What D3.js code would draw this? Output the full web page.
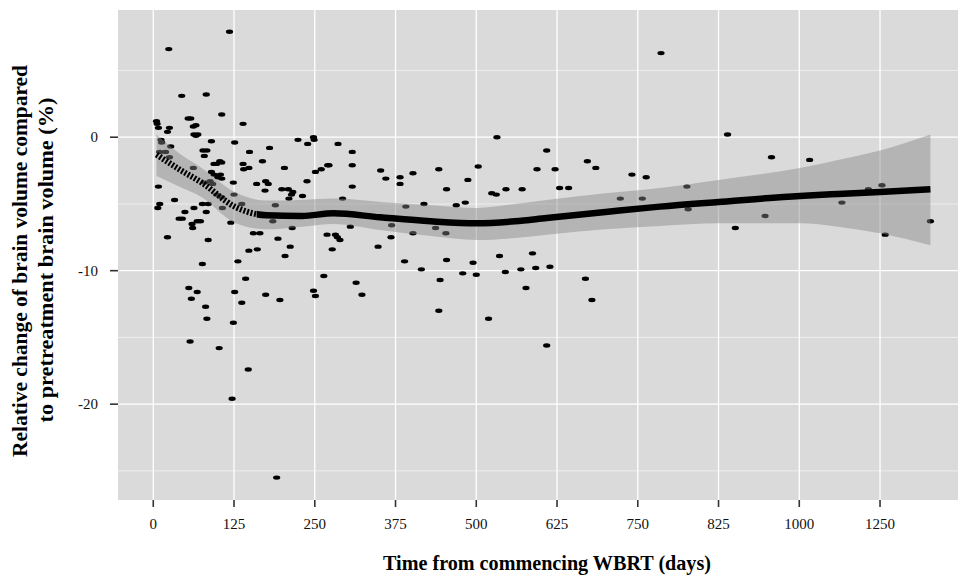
<!DOCTYPE html>
<html>
<head>
<meta charset="utf-8">
<script src="https://cdn.jsdelivr.net/npm/d3@7"></script>
<style>
  body { margin: 0; background: #fff; }
  text { font-family: "Liberation Serif", "Times New Roman", serif; }
</style>
</head>
<body>
<svg id="chart" width="958" height="578"></svg>
<script>
// scatter: days since WBRT start, relative change of brain volume (%)
var days = [118,24,44,82,106,54,58,5,6,8,25,62,66,22,63,69,66,90,12,13,27,77,83,79,10,19,25,103,106,98,
  94,62,90,94,104,100,106,124,8,88,80,92,98,106,33,10,7,76,85,107,63,82,49,40,45,68,73,60,61,120,
  22,85,139,126,149,180,224,239,248,249,286,308,169,139,140,148,270,272,308,203,260,251,352,360,382,382,160,174,178,238,
  173,199,209,216,214,210,231,308,125,293,189,137,185,215,305,369,155,165,193,269,282,285,289,368,148,161,212,204,277,348,
  131,76,143,264,55,68,59,126,174,196,248,251,314,323,137,81,83,124,57,102,147,122,191,
  786,532,609,402,442,454,487,503,524,531,546,571,594,622,629,643,672,685,741,763,723,757,419,391,469,483,402,437,453,
  389,454,495,536,587,415,479,500,545,569,592,614,444,577,669,679,442,519,609,
  889,957,1016,826,1107,1128,828,1066,947,901,1203,1133];
var change = [7.9,6.6,3.1,3.2,1.7,1.4,1.4,1.2,1.0,0.7,0.7,0.8,0.9,0.4,0.2,0.2,0.1,-0.3,-0.2,-0.4,-0.7,-1.0,-1.0,-1.4,-1.1,-1.1,-1.5,-1.8,-1.9,-2.0,
  -2.0,-2.3,-2.6,-2.8,-2.8,-3.0,-3.1,-3.4,-3.7,-3.3,-3.4,-3.5,-4.3,-4.5,-4.7,-5.0,-5.3,-5.0,-5.0,-5.3,-5.3,-5.6,-5.6,-6.1,-6.1,-6.3,-6.3,-6.5,-6.8,-6.4,
  -7.5,-7.7,1.0,-0.4,-1.1,-0.8,-0.2,-0.5,0.0,-0.2,-0.5,-1.1,-1.8,-2.0,-2.4,-2.3,-2.1,-2.1,-2.1,-2.3,-2.4,-2.6,-2.5,-3.1,-3.0,-3.5,-3.5,-3.3,-3.5,-3.3,
  -4.0,-3.9,-3.9,-4.1,-4.3,-4.6,-4.4,-3.7,-4.3,-4.6,-5.1,-5.0,-6.3,-6.8,-6.7,-6.6,-7.2,-7.2,-7.6,-7.3,-7.3,-7.5,-7.7,-7.5,-8.5,-8.4,-8.2,-8.9,-8.4,-8.2,
  -9.3,-9.5,-10.6,-10.4,-11.3,-11.6,-12.1,-11.6,-11.8,-12.2,-11.5,-11.9,-10.9,-11.8,-12.4,-12.7,-13.6,-13.9,-15.3,-15.8,-17.4,-19.6,-25.5,
  6.3,0.0,-1.0,-2.7,-2.4,-3.9,-3.2,-2.2,-4.2,-4.3,-3.9,-3.9,-2.4,-2.4,-3.8,-3.8,-1.8,-2.3,-2.8,-3.0,-4.6,-4.6,-5.0,-5.2,-5.1,-4.9,-7.2,-6.8,-7.2,
  -9.3,-9.2,-9.4,-8.9,-8.7,-9.9,-10.2,-10.3,-10.1,-9.9,-9.8,-9.7,-10.7,-11.3,-10.6,-12.2,-13.0,-13.6,-15.6,
  0.2,-1.5,-1.7,-3.7,-3.9,-3.6,-5.4,-4.9,-5.9,-6.8,-6.3,-7.3];

// loess fit with confidence band
var fitDays  = [5,40,75,126,175,230,279,351,430,501,560,609,700,784,875,1001,1060,1125,1203];
var fitValue = [-1.3,-2.4,-3.4,-5.2,-5.85,-5.9,-5.7,-6.0,-6.3,-6.45,-6.3,-6.05,-5.6,-5.2,-4.85,-4.4,-4.25,-4.1,-3.9];
var fitUpper = [0.2,-1.2,-2.3,-4.1,-4.75,-4.7,-4.6,-4.85,-5.1,-5.3,-5.0,-4.7,-4.2,-3.8,-3.2,-2.3,-1.7,-1.0,0.2];
var fitLower = [-2.9,-3.7,-4.5,-6.4,-6.9,-6.7,-6.5,-6.95,-7.4,-7.7,-7.55,-7.3,-6.9,-6.65,-6.45,-6.45,-6.7,-7.2,-8.1];

var xTickValues = [0,125,250,375,500,625,750,875,1000,1125];
var xTickLabels = ["0","125","250","375","500","625","750","825","1000","1250"];
var yTicks = [-20,-10,0];
var yMinor = [-25,-15,-5,5];

var svg = d3.select('#chart');
var pLeft = 118, pRight = 958, pTop = 10, pBottom = 500;

var x = d3.scaleLinear().domain([-54.6, 1245.7]).range([pLeft, pRight]);
var y = d3.scaleLinear().domain([-27.18, 9.53]).range([pBottom, pTop]);

// panel
svg.append('rect').attr('x', pLeft).attr('y', pTop)
  .attr('width', pRight - pLeft).attr('height', pBottom - pTop)
  .attr('fill', '#dadada');

svg.append('g').selectAll('line').data(yMinor).enter().append('line')
  .attr('x1', pLeft).attr('x2', pRight)
  .attr('y1', function(d){ return y(d); }).attr('y2', function(d){ return y(d); })
  .attr('stroke', '#f2f2f2').attr('stroke-width', 0.8);

svg.append('g').selectAll('line').data(yTicks).enter().append('line')
  .attr('x1', pLeft).attr('x2', pRight)
  .attr('y1', function(d){ return y(d); }).attr('y2', function(d){ return y(d); })
  .attr('stroke', '#fff').attr('stroke-width', 1.3);

svg.append('g').selectAll('line').data(xTickValues).enter().append('line')
  .attr('y1', pTop).attr('y2', pBottom)
  .attr('x1', function(d){ return x(d); }).attr('x2', function(d){ return x(d); })
  .attr('stroke', '#fff').attr('stroke-width', 1.3);

// points
var pts = days.map(function(d, i){ return {day: d, val: change[i]}; });
svg.append('g').selectAll('ellipse').data(pts).enter().append('ellipse')
  .attr('cx', function(d){ return x(d.day); })
  .attr('cy', function(d){ return y(d.val); })
  .attr('rx', 3.6).attr('ry', 2.2)
  .attr('fill', '#000');

// confidence band
var fit = fitDays.map(function(d, i){
  return {day: d, val: fitValue[i], lo: fitLower[i], hi: fitUpper[i]};
});
var band = d3.area().curve(d3.curveMonotoneX)
  .x(function(d){ return x(d.day); })
  .y0(function(d){ return y(d.lo); })
  .y1(function(d){ return y(d.hi); });
svg.append('path').datum(fit).attr('d', band)
  .attr('fill', '#858585').attr('fill-opacity', 0.45);

// fitted line: hatched early part, solid afterwards
var split = x(160);
var defs = svg.append('defs');
defs.append('clipPath').attr('id', 'early').append('rect')
  .attr('x', 0).attr('y', 0).attr('width', split).attr('height', 578);
defs.append('clipPath').attr('id', 'late').append('rect')
  .attr('x', split).attr('y', 0).attr('width', 958 - split).attr('height', 578);

var line = d3.line().curve(d3.curveMonotoneX)
  .x(function(d){ return x(d.day); })
  .y(function(d){ return y(d.val); });

svg.append('path').datum(fit).attr('d', line)
  .attr('clip-path', 'url(#early)')
  .attr('fill', 'none').attr('stroke', '#000')
  .attr('stroke-width', 6).attr('stroke-dasharray', '2,1.7');
svg.append('path').datum(fit).attr('d', line)
  .attr('clip-path', 'url(#late)')
  .attr('fill', 'none').attr('stroke', '#000')
  .attr('stroke-width', 6.5);

// axes
var xg = svg.append('g');
xg.selectAll('line').data(xTickValues).enter().append('line')
  .attr('x1', function(d){ return x(d); }).attr('x2', function(d){ return x(d); })
  .attr('y1', pBottom).attr('y2', pBottom + 7)
  .attr('stroke', '#333').attr('stroke-width', 1.6);
xg.selectAll('text').data(xTickValues).enter().append('text')
  .attr('x', function(d){ return x(d); }).attr('y', 529)
  .attr('text-anchor', 'middle').attr('font-size', 15).attr('fill', '#111')
  .text(function(d, i){ return xTickLabels[i]; });

var yg = svg.append('g');
yg.selectAll('line').data(yTicks).enter().append('line')
  .attr('x1', pLeft - 8).attr('x2', pLeft)
  .attr('y1', function(d){ return y(d); }).attr('y2', function(d){ return y(d); })
  .attr('stroke', '#333').attr('stroke-width', 1.6);
yg.selectAll('text').data(yTicks).enter().append('text')
  .attr('x', 98).attr('y', function(d){ return y(d); })
  .attr('dy', '0.35em')
  .attr('text-anchor', 'end').attr('font-size', 15).attr('fill', '#111')
  .text(function(d){ return d; });

svg.append('text')
  .attr('x', 547).attr('y', 570)
  .attr('text-anchor', 'middle').attr('font-size', 20).attr('font-weight', 'bold')
  .attr('textLength', 328).attr('lengthAdjust', 'spacingAndGlyphs')
  .text('Time from commencing WBRT (days)');

svg.append('text')
  .attr('transform', 'translate(20,261) rotate(-90)')
  .attr('dy', '0.35em')
  .attr('text-anchor', 'middle').attr('font-size', 20).attr('font-weight', 'bold')
  .attr('textLength', 392).attr('lengthAdjust', 'spacingAndGlyphs')
  .text('Relative change of brain volume compared');
svg.append('text')
  .attr('transform', 'translate(46,260) rotate(-90)')
  .attr('dy', '0.35em')
  .attr('text-anchor', 'middle').attr('font-size', 20).attr('font-weight', 'bold')
  .attr('textLength', 325).attr('lengthAdjust', 'spacingAndGlyphs')
  .text('to pretreatment brain volume (%)');
</script>
</body>
</html>
